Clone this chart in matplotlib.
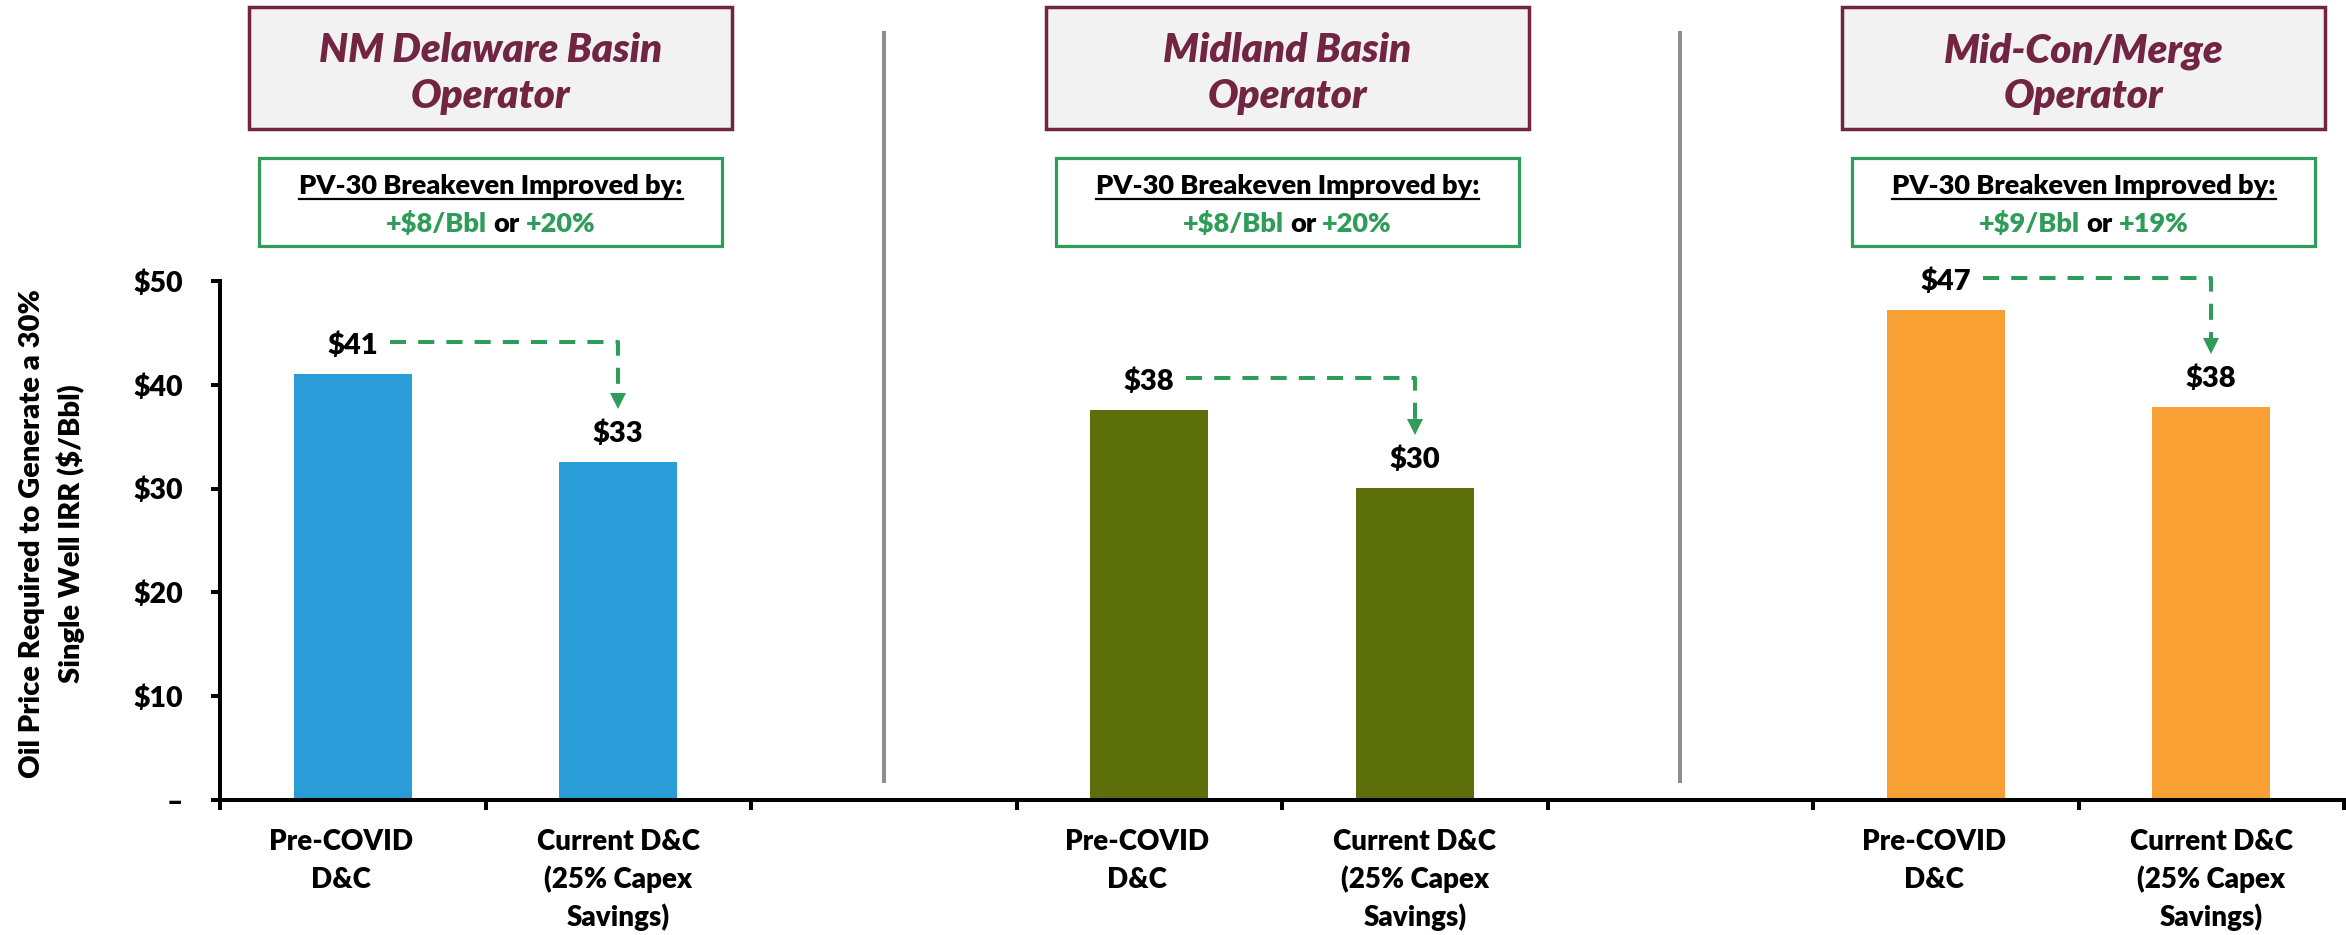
import matplotlib
matplotlib.use('Agg')
import matplotlib.pyplot as plt
from matplotlib import transforms
from matplotlib.patches import Rectangle
from matplotlib.lines import Line2D
import numpy as np

plt.rcParams['font.family'] = ['Lato', 'DejaVu Sans']
plt.rcParams['font.weight'] = 800
plt.rcParams['text.parse_math'] = False

# oil price needed for a 30% single well IRR, $/Bbl
operators = [['NM Delaware Basin', 'Operator'],
             ['Midland Basin', 'Operator'],
             ['Mid-Con/Merge', 'Operator']]
cases = [['Pre-COVID', 'D&C'], ['Current D&C', '(25% Capex', 'Savings)']]
pre_covid = [41.0, 37.6, 47.2]
current_dc = [32.6, 30.1, 37.9]
gain_bbl = ['+$8/Bbl', '+$8/Bbl', '+$9/Bbl']
gain_pct = ['+20%', '+20%', '+19%']
bar_colors = ['#2A9CD8', '#5D6F0A', '#F8A034']
yticks = [0, 10, 20, 30, 40, 50]
ytick_labels = ['–', '$10', '$20', '$30', '$40', '$50']

MAROON = '#722540'
GREEN = '#2F9D59'
W, H = 2346, 935


def fy(px):
    # pixel row (from top) -> figure fraction
    return 1 - px / H


fig = plt.figure(figsize=(W / 100, H / 100), dpi=100)
ax = fig.add_axes([220 / W, fy(800), (W - 2 - 220) / W, 519 / H])
ax.set_xlim(-0.5, 7.5)
ax.set_ylim(0, 50)
ppu = 519 / 50  # pixels per $ on the y axis

for side in ['top', 'right']:
    ax.spines[side].set_visible(False)
for side in ['left', 'bottom']:
    ax.spines[side].set_linewidth(2.9)

ax.set_yticks(yticks, ytick_labels)
ax.tick_params(axis='y', length=6.5, width=2.9, pad=20, labelsize=20.5)
ax.set_xticks(np.arange(-0.5, 8, 1))
ax.set_xticklabels([])
ax.tick_params(axis='x', length=7, width=2.9)

trans = transforms.blended_transform_factory(ax.transData, fig.transFigure)
renderer = fig.canvas.get_renderer()


def text_w(s, size):
    t = fig.text(0, 0, s, fontsize=size)
    w = t.get_window_extent(renderer).width
    t.remove()
    return w


BOX_FS = 19.5
space = text_w('a a', BOX_FS) - text_w('aa', BOX_FS)

for g in range(3):
    x0, x1 = 3 * g, 3 * g + 1
    ax.bar([x0, x1], [pre_covid[g], current_dc[g]], width=0.445, color=bar_colors[g])

    for x, v in ((x0, pre_covid[g]), (x1, current_dc[g])):
        ax.annotate(f'${v:.0f}', (x, v), xytext=(0, 14.4), textcoords='offset points',
                    ha='center', va='baseline', fontsize=21)

    # dashed elbow arrow from the pre-COVID label down to the current label
    y_h = pre_covid[g] + 32 / ppu
    tip = current_dc[g] + 53 / ppu
    head = 15 / ppu
    ax.plot([x0 + 0.14, x1, x1], [y_h, y_h, tip + head], color=GREEN, lw=2.9,
            ls=(0, (4, 3)), dash_capstyle='butt', clip_on=False)
    ax.plot([x1], [tip + head / 2], marker='v', ms=11, color=GREEN, mew=0, clip_on=False)

    # category labels under each bar (the pre-COVID one sits a little left)
    for x, lines in ((x0 - 0.045, cases[0]), (x1, cases[1])):
        for i, line in enumerate(lines):
            ax.text(x, fy(850 + 38 * i), line, transform=trans, ha='center',
                    va='baseline', fontsize=20)

    # operator title box
    cx = 3 * g + 0.52
    ax.add_patch(Rectangle((cx - 0.91, fy(129)), 1.82, 122 / H, transform=trans,
                           facecolor='#F2F2F2', edgecolor=MAROON, lw=2.5, clip_on=False))
    ax.text(cx, fy(62), operators[g][0], transform=trans, ha='center', va='baseline',
            fontsize=29, style='italic', color=MAROON)
    ax.text(cx, fy(108), operators[g][1], transform=trans, ha='center', va='baseline',
            fontsize=29, style='italic', color=MAROON)

    # breakeven improvement box
    ax.add_patch(Rectangle((cx - 0.872, fy(246)), 1.744, 88 / H, transform=trans,
                           facecolor='white', edgecolor=GREEN, lw=2.3, clip_on=False))
    hdr = ax.text(cx, fy(194), 'PV-30 Breakeven Improved by:', transform=trans,
                  ha='center', va='baseline', fontsize=BOX_FS, color='black')
    bb = hdr.get_window_extent(renderer)
    fig.add_artist(Line2D([bb.x0 / W, bb.x1 / W], [fy(199)] * 2, color='black', lw=1.6))

    parts = [(gain_bbl[g], GREEN), ('or', 'black'), (gain_pct[g], GREEN)]
    widths = [text_w(s, BOX_FS) for s, _ in parts]
    x = ax.transData.transform((cx, 0))[0] - (sum(widths) + 2 * space) / 2
    for (s, c), w in zip(parts, widths):
        fig.text(x / W, fy(232), s, color=c, fontsize=BOX_FS, ha='left', va='baseline')
        x += w + space

# grey dividers between operators
for g in range(2):
    ax.axvline(3 * g + 2, ymin=19 / 519, ymax=767 / 519, color='#8E8E8E', lw=2.9, clip_on=False)

fig.text(40 / W, fy(534), 'Oil Price Required to Generate a 30%', rotation=90,
         rotation_mode='anchor', ha='center', va='baseline', fontsize=21)
fig.text(80 / W, fy(534), 'Single Well IRR ($/Bbl)', rotation=90,
         rotation_mode='anchor', ha='center', va='baseline', fontsize=21)

fig.savefig('out.png', dpi=100)
